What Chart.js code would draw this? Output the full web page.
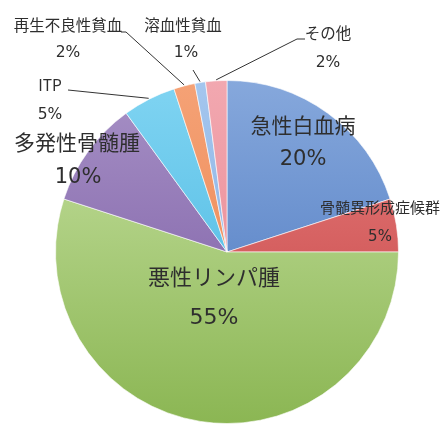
<!DOCTYPE html>
<html>
<head>
<meta charset="utf-8">
<script src="https://cdn.jsdelivr.net/npm/chart.js@4"></script>
<style>
  html, body { margin: 0; padding: 0; background: #fff; }
  #wrap { width: 442px; height: 424px; }
</style>
</head>
<body>
<div id="wrap"><canvas id="myChart" width="442" height="424"></canvas></div>
<script>
// data
var labels = ["急性白血病", "骨髄異形成症候群", "悪性リンパ腫", "多発性骨髄腫", "ITP", "再生不良性貧血", "溶血性貧血", "その他"];
var values = [20, 5, 55, 10, 5, 2, 1, 2];
var pctLabels = ["20%", "5%", "55%", "10%", "5%", "2%", "1%", "2%"];

// [top colour, bottom colour] per slice
var sliceColors = [
    ["#86a8dc", "#4673bd"],
    ["#e88080", "#c23f3f"],
    ["#c8e2a4", "#8bb653"],
    ["#a791c6", "#7656a0"],
    ["#80d4f2", "#3fb2de"],
    ["#f5a276", "#e9804a"],
    ["#a4c6ee", "#7fa8de"],
    ["#f2a8b0", "#e6808c"]
];

// label placement, relative to pie centre: name pos, pct pos, font size, leader line
var labelLayout = [
    { n: [76, -127], p: [76, -92], size: 21 },
    { n: [153, -45], p: [153, -15], size: 15 },
    { n: [-13, 25], p: [-13, 66], size: 22 },
    { n: [-150, -110], p: [-149, -74], size: 21 },
    { n: [-177, -167], p: [-177, -137], size: 15.5, line: [[-159, -162]] },
    { n: [-159, -227], p: [-159, -199], size: 15.5, line: [[-106, -220], [-101, -220]] },
    { n: [-44, -227], p: [-41, -199], size: 15.5, line: [[-34, -182]] },
    { n: [101, -219], p: [101, -189], size: 15.5, line: [[78, -213], [70, -213]] }
];

var pieLabels = {
    id: 'pieLabels',
    afterDatasetsDraw: function(chart) {
        var ctx = chart.ctx;
        var arcs = chart.getDatasetMeta(0).data;
        var cx = arcs[0].x, cy = arcs[0].y;
        ctx.save();
        ctx.fillStyle = "#2e2e2e";
        ctx.textAlign = "center";
        ctx.textBaseline = "middle";
        arcs.forEach(function(arc, i) {
            var lay = labelLayout[i];
            ctx.font = lay.size + 'px "Noto Sans CJK JP", sans-serif';
            ctx.fillText(labels[i], cx + lay.n[0], cy + lay.n[1]);
            ctx.font = lay.size + 'px "DejaVu Sans", sans-serif';
            ctx.fillText(pctLabels[i], cx + lay.p[0], cy + lay.p[1]);
            if (lay.line) {
                var mid = (arc.startAngle + arc.endAngle) / 2;
                ctx.strokeStyle = "#333";
                ctx.lineWidth = 1;
                ctx.beginPath();
                lay.line.forEach(function(pt, k) {
                    if (k === 0) ctx.moveTo(cx + pt[0], cy + pt[1]);
                    else ctx.lineTo(cx + pt[0], cy + pt[1]);
                });
                ctx.lineTo(cx + Math.cos(mid) * (arc.outerRadius + 1), cy + Math.sin(mid) * (arc.outerRadius + 1));
                ctx.stroke();
            }
        });
        ctx.restore();
    }
};

var ctx = document.getElementById("myChart");
var myChart = new Chart(ctx, {
    type: 'pie',
    data: {
        labels: labels,
        datasets: [{
            data: values,
            borderColor: "rgba(255,255,255,0.6)",
            borderWidth: 1,
            backgroundColor: function(c) {
                var chart = c.chart;
                var area = chart.chartArea;
                if (!area) return sliceColors[c.dataIndex][1];
                var g = chart.ctx.createLinearGradient(0, area.top, 0, area.bottom);
                g.addColorStop(0, sliceColors[c.dataIndex][0]);
                g.addColorStop(1, sliceColors[c.dataIndex][1]);
                return g;
            }
        }]
    },
    options: {
        responsive: false,
        animation: false,
        layout: { padding: { top: 80, bottom: 0, left: 55, right: 43 } },
        plugins: {
            legend: { display: false },
            tooltip: { enabled: false }
        }
    },
    plugins: [pieLabels]
});
</script>
</body>
</html>
